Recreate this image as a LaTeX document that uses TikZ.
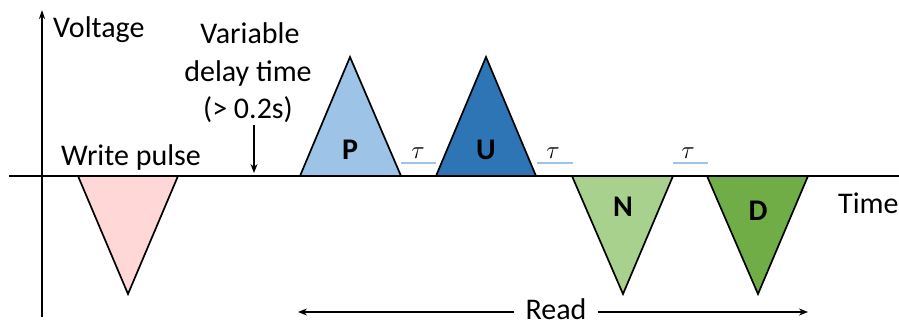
\documentclass[tikz,border=0pt]{standalone}
\usepackage{fontspec}
\setmainfont{Carlito}
\usetikzlibrary{arrows.meta}
\definecolor{wpink}{RGB}{255,215,215}
\definecolor{pblue}{RGB}{157,195,230}
\definecolor{ublue}{RGB}{46,117,182}
\definecolor{ngreen}{RGB}{169,209,142}
\definecolor{dgreen}{RGB}{112,173,71}
\definecolor{taublue}{RGB}{157,195,230}
\begin{document}
\begin{tikzpicture}[x=1pt,y=-1pt,
  lbl/.style={inner sep=0pt, font=\fontsize{30}{36}\selectfont, anchor=base},
  pl/.style={inner sep=0pt, font=\fontsize{30}{36}\selectfont\bfseries, anchor=base},
  taulbl/.style={inner sep=0pt, font=\fontsize{33}{36}\selectfont, anchor=base},
  tri/.style={draw=black, line width=1.7pt, line join=miter},
  axis/.style={line width=1.8pt},
  taul/.style={draw=taublue, line width=1.3pt},
  arr/.style={line width=1.6pt, -{Stealth[length=9pt,width=7pt]}}]
\useasboundingbox (0,0) rectangle (899,324);
% axes
\coordinate (xl) at (9,176);
\coordinate (xr) at (899,176);
\coordinate (yb) at (42,317);
\coordinate (yt) at (42,10);
\draw[axis] (xl) -- (xr);
\draw[axis,-{Stealth[length=9pt,width=6pt]}] (yb) -- (yt);
% pulses
\draw[tri, fill=wpink] (78,176) -- (178,176) -- (128,294) -- cycle;
\draw[tri, fill=pblue] (300,176) -- (401,176) -- (350,57) -- cycle;
\draw[tri, fill=ublue] (436,176) -- (536,176) -- (486,57) -- cycle;
\draw[tri, fill=ngreen] (572,176) -- (673,176) -- (623,294) -- cycle;
\draw[tri, fill=dgreen] (707,176) -- (808,176) -- (758,294) -- cycle;
\node[pl] (p) at (350,159) {P};
\node[pl] (u) at (486,159) {U};
\node[pl] (n) at (623,216) {N};
\node[pl] (d) at (758,220) {D};
% tau gaps
\draw[taul] (401,163) -- (436,163);
\draw[taul] (537,163) -- (573,163);
\draw[taul] (673,163) -- (708,163);
\node[taulbl] (t1) at (418,158) {$\tau$};
\node[taulbl] (t2) at (553,158) {$\tau$};
\node[taulbl] (t3) at (688,158) {$\tau$};
% labels
\node[lbl, anchor=base west] (volt) at (53,37) {Voltage};
\node[lbl] (wp) at (131,165) {Write pulse};
\node[lbl] (v1) at (250,43) {Variable};
\node[lbl] (v2) at (248,81) {delay time};
\node[lbl] (v3) at (248,118) {(> 0.2s)};
\node[lbl, anchor=base west] (time) at (838,213) {Time};
% delay arrow
\coordinate (da) at (254,125);
\coordinate (db) at (254,173);
\draw[arr] (da) -- (db);
% read arrow
\node[lbl, inner xsep=11pt] (read) at (556,319) {Read};
\coordinate (rl) at (298,312);
\coordinate (rr) at (808,312);
\draw[arr] (read.west |- rl) -- (rl);
\draw[arr] (read.east |- rr) -- (rr);
\end{tikzpicture}
\end{document}
